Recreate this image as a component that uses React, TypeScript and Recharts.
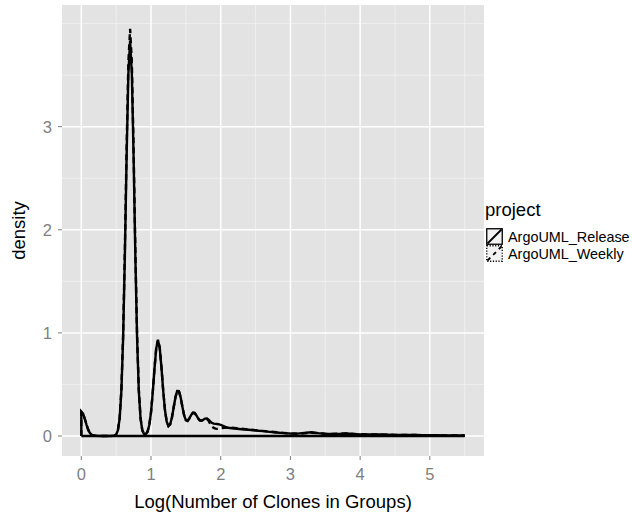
import { CartesianGrid, Legend, Line, LineChart, ReferenceLine, XAxis, YAxis } from "recharts";

// log group size (shared grid for both projects)
const LOG_SIZE = [
  0, 0, 0.025, 0.05, 0.075, 0.1, 0.125, 0.15, 0.2, 0.3, 0.4,
  0.45, 0.475, 0.5, 0.525, 0.55, 0.575, 0.6, 0.625, 0.65, 0.675, 0.7, 0.725, 0.75, 0.775, 0.8,
  0.825, 0.85, 0.875, 0.9, 0.925, 0.95, 0.975, 1.0, 1.025, 1.05, 1.075, 1.1, 1.125, 1.15, 1.175,
  1.2, 1.225, 1.25, 1.275, 1.3, 1.325, 1.35, 1.375, 1.4, 1.425, 1.45, 1.475, 1.5, 1.525, 1.55,
  1.575, 1.6, 1.625, 1.65, 1.675, 1.7, 1.725, 1.75, 1.775, 1.8, 1.825, 1.85, 1.875, 1.9, 1.925,
  1.95, 1.975, 2.0,
  2.1, 2.2, 2.3, 2.4, 2.5, 2.6, 2.7, 2.8, 2.9, 3.0, 3.1, 3.2, 3.3, 3.4, 3.5, 3.6, 3.7, 3.8, 3.9,
  4.0, 4.1, 4.2, 4.3, 4.4, 4.5, 4.6, 4.7, 4.8, 4.9, 5.0, 5.1, 5.2, 5.3, 5.4, 5.5,
];

const RELEASE = [
  0, 0.236, 0.216, 0.167, 0.108, 0.059, 0.027, 0.01, 0.002, 0, 0,
  0.001, 0.004, 0.015, 0.054, 0.169, 0.437, 0.954, 1.754, 2.708, 3.512, 3.83, 3.512, 2.708, 1.754, 0.954,
  0.437, 0.169, 0.055, 0.019, 0.017, 0.041, 0.105, 0.229, 0.423, 0.654, 0.85, 0.928, 0.854, 0.663, 0.438,
  0.252, 0.139, 0.097, 0.114, 0.18, 0.276, 0.374, 0.436, 0.435, 0.375, 0.283, 0.2, 0.154, 0.146, 0.171,
  0.203, 0.225, 0.223, 0.201, 0.171, 0.152, 0.149, 0.158, 0.169, 0.17, 0.159, 0.142, 0.126, 0.12, 0.118,
  0.116, 0.112, 0.107,
  0.08, 0.073, 0.066, 0.06, 0.053, 0.047, 0.04, 0.034, 0.028, 0.024, 0.023, 0.03, 0.036, 0.028, 0.022, 0.02, 0.021, 0.024, 0.02,
  0.016, 0.015, 0.016, 0.014, 0.012, 0.011, 0.01, 0.01, 0.009, 0.008, 0.007, 0.007, 0.006, 0.006, 0.005, 0.005,
];

const WEEKLY = [
  0, 0.236, 0.216, 0.167, 0.108, 0.059, 0.027, 0.01, 0.002, 0, 0,
  0.001, 0.004, 0.015, 0.056, 0.174, 0.45, 0.984, 1.809, 2.793, 3.622, 3.95, 3.622, 2.793, 1.809, 0.984,
  0.45, 0.174, 0.057, 0.019, 0.017, 0.041, 0.106, 0.231, 0.426, 0.658, 0.855, 0.934, 0.858, 0.666, 0.44,
  0.253, 0.14, 0.098, 0.114, 0.18, 0.276, 0.374, 0.437, 0.436, 0.376, 0.284, 0.201, 0.155, 0.147, 0.171,
  0.203, 0.225, 0.223, 0.201, 0.171, 0.152, 0.149, 0.158, 0.168, 0.168, 0.148, 0.118, 0.092, 0.078, 0.071,
  0.069, 0.071, 0.076,
  0.083, 0.077, 0.07, 0.063, 0.057, 0.05, 0.043, 0.036, 0.03, 0.025, 0.022, 0.026, 0.032, 0.027, 0.021, 0.019, 0.022, 0.025, 0.021,
  0.017, 0.015, 0.015, 0.013, 0.012, 0.011, 0.01, 0.009, 0.009, 0.008, 0.007, 0.006, 0.006, 0.005, 0.005, 0.005,
];

const SERIES = ["ArgoUML_Release", "ArgoUML_Weekly"];
const X_TICKS = [0, 1, 2, 3, 4, 5];
const Y_TICKS = [0, 1, 2, 3];
const X_MINOR = [0.5, 1.5, 2.5, 3.5, 4.5, 5.5];
const Y_MINOR = [0.5, 1.5, 2.5, 3.5, 4];

const data = LOG_SIZE.map((x, i) => ({ x, release: RELEASE[i], weekly: WEEKLY[i] }));

const FONT = '"Liberation Sans", Arial, Helvetica, sans-serif';
const TICK_GREY = "#7f7f7f";
const LEGEND_W = 148;

function YTitle(props: any) {
  const vb = props.viewBox || { x: 0, y: 5, width: 62, height: 451 };
  const cx = 25;
  const cy = vb.y + vb.height / 2;
  return (
    <text x={cx} y={cy} transform={`rotate(-90 ${cx} ${cy})`} textAnchor="middle" fontSize={18.5} fill="#000" fontFamily={FONT}>
      density
    </text>
  );
}

function LegendBox() {
  return (
    <div style={{ fontFamily: FONT, color: "#000" }}>
      <div style={{ fontSize: 18.5, lineHeight: "18.5px", height: 18.5, marginBottom: 8.5, paddingLeft: 1 }}>project</div>
      {SERIES.map((name, i) => (
        <div key={name} style={{ display: "flex", alignItems: "center", height: 17 }}>
          <svg width={17} height={17} style={{ marginLeft: 2, display: "block", flexShrink: 0 }}>
            <rect x={0.75} y={0.75} width={15.5} height={15.5} fill="#f2f2f2" stroke="#000" strokeWidth={1.3}
              strokeDasharray={i === 1 ? "1.2 1.6" : undefined} />
            <line x1={1.5} y1={15.5} x2={15.5} y2={1.5} stroke="#000" strokeWidth={1.8}
              strokeDasharray={i === 1 ? "4 4" : undefined} />
          </svg>
          <span style={{ fontSize: 14.4, marginLeft: 5, whiteSpace: "nowrap", flexShrink: 0 }}>{name}</span>
        </div>
      ))}
    </div>
  );
}

export default function App() {
  return (
    <div style={{ position: "absolute", left: 0, top: 0, width: 632, height: 514, overflow: "hidden", background: "#fff" }}>
      {/* legend width is added to the right offset by recharts, so margin.right stays 0 */}
      <LineChart width={632} height={514} data={data} margin={{ top: 5, right: 0, bottom: 0, left: 0 }} style={{ fontFamily: FONT }}>
        <CartesianGrid fill="#e3e3e3" stroke="#f2f2f2" strokeWidth={0.8} horizontalValues={Y_MINOR} verticalValues={X_MINOR} />
        <CartesianGrid stroke="#ffffff" strokeWidth={1.5} horizontalValues={Y_TICKS} verticalValues={X_TICKS} />
        <XAxis
          dataKey="x"
          type="number"
          domain={[-0.277, 5.777]}
          ticks={X_TICKS}
          interval={0}
          allowDataOverflow
          height={58}
          axisLine={false}
          tickSize={4}
          tickMargin={8}
          tickLine={{ stroke: TICK_GREY }}
          tick={{ fill: TICK_GREY, fontSize: 16.5, fontFamily: FONT }}
          label={{ value: "Log(Number of Clones in Groups)", position: "insideBottom", offset: 6, fill: "#000", fontSize: 18.5, fontFamily: FONT }}
        />
        <YAxis
          type="number"
          domain={[-0.194, 4.18]}
          ticks={Y_TICKS}
          interval={0}
          allowDataOverflow
          width={62}
          axisLine={false}
          tickSize={4}
          tickMargin={6}
          tickLine={{ stroke: TICK_GREY }}
          tick={{ fill: TICK_GREY, fontSize: 16.5, fontFamily: FONT }}
          label={{ content: (p: any) => <YTitle {...p} /> }}
        />
        <ReferenceLine
          segment={[{ x: LOG_SIZE[0], y: 0 }, { x: LOG_SIZE[LOG_SIZE.length - 1], y: 0 }]}
          stroke="#000"
          strokeWidth={2.4}
        />
        <Line dataKey="release" name={SERIES[0]} type="linear" stroke="#000" strokeWidth={2.4} dot={false} activeDot={false} isAnimationActive={false} />
        <Line dataKey="weekly" name={SERIES[1]} type="linear" stroke="#000" strokeWidth={2.4} strokeDasharray="6 4" dot={false} activeDot={false} isAnimationActive={false} />
        <Legend layout="horizontal" verticalAlign="middle" align="right" wrapperStyle={{ left: 632 - LEGEND_W, top: 201, width: LEGEND_W }} content={() => <LegendBox />} />
      </LineChart>
    </div>
  );
}
